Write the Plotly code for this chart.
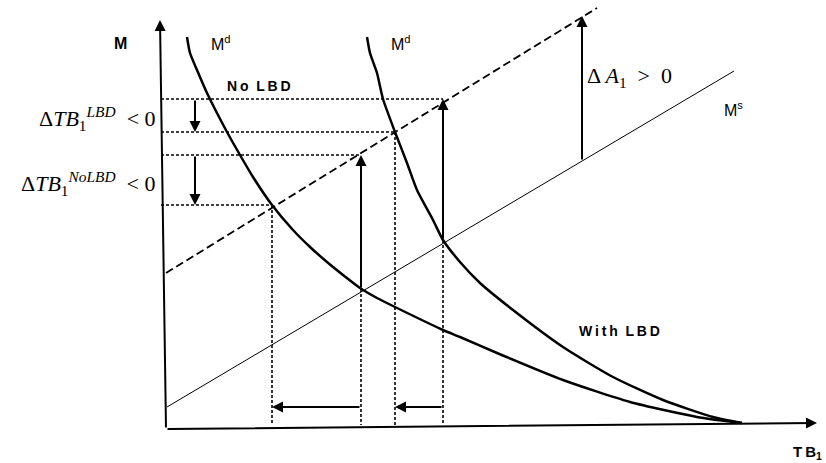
import plotly.graph_objects as go

# diagram units: origin at the axes corner, x = TB1, y = M
md_left_x = [21, 24, 31, 41, 61, 74, 87, 106, 127, 144, 161, 177, 194, 211, 229, 277, 294,
             331, 397, 464, 531, 576]
md_left_y = [392, 376, 359, 336, 297, 274, 252, 224, 199, 182, 167, 154, 141, 131, 122, 99, 92,
             76, 49, 27, 12, 6]

md_right_x = [201, 204, 211, 217, 229, 241, 251, 267, 277, 294, 314, 347, 397, 447, 497, 547, 576]
md_right_y = [392, 376, 356, 330, 297, 266, 239, 209, 189, 167, 146, 119, 82, 52, 29, 12, 6]

ms_x = [1, 568]
ms_y = [22, 358]
ms_shift_x = [0, 431]
ms_shift_y = [156, 421]

# equilibrium points (x, y)
eq_x = [106, 195, 229, 277]
eq_y = [224, 140, 297, 189]
level_y = [224, 274, 297, 330]   # horizontal guide levels
level_x = [106, 195, 229, 277]   # where each guide ends

da_x = 416
da_y = [268, 413]

fig = go.Figure()

BLACK = "black"
dot = "3px,2px"

# horizontal guides from the M axis
for lx, ly in zip(level_x, level_y):
    fig.add_trace(go.Scatter(x=[-5, lx], y=[ly, ly], mode="lines",
                             line=dict(color=BLACK, width=1.6, dash=dot)))

# vertical guides down to the TB axis
for vx, vy in zip(eq_x, eq_y):
    fig.add_trace(go.Scatter(x=[vx, vx], y=[vy, 4], mode="lines",
                             line=dict(color=BLACK, width=1.6, dash=dot)))

# supply lines
fig.add_trace(go.Scatter(x=ms_x, y=ms_y, mode="lines", line=dict(color=BLACK, width=1)))
fig.add_trace(go.Scatter(x=ms_shift_x, y=ms_shift_y, mode="lines",
                         line=dict(color=BLACK, width=1.8, dash="8px,4px")))

# demand curves
fig.add_trace(go.Scatter(x=md_left_x, y=md_left_y, mode="lines",
                         line=dict(color=BLACK, width=2.5, shape="spline", smoothing=0.6)))
fig.add_trace(go.Scatter(x=md_right_x, y=md_right_y, mode="lines",
                         line=dict(color=BLACK, width=2.5, shape="spline", smoothing=0.6)))


def arrow(x0, y0, x1, y1, w=2):
    fig.add_annotation(x=x1, y=y1, ax=x0, ay=y0, xref="x", yref="y", axref="x", ayref="y",
                       text="", showarrow=True, arrowhead=2, arrowsize=1.1,
                       arrowwidth=w, arrowcolor=BLACK)


# axes
arrow(0, 0, -6, 409)
arrow(0, 0, 651, 6)
# shifts
arrow(195, 140, 195, 274)
arrow(277, 189, 277, 330)
arrow(da_x, da_y[0], da_x, da_y[1])
arrow(29, 330, 29, 297)
arrow(29, 274, 29, 224)
arrow(195, 22, 106, 22)
arrow(277, 22, 229, 22)

sans = "Liberation Sans"
serif = "Liberation Serif"


def label(x, y, text, size=13, family=sans, xanchor="left"):
    fig.add_annotation(x=x, y=y, text=text, showarrow=False, xanchor=xanchor,
                       yanchor="middle", font=dict(family=family, size=size, color=BLACK))


label(-46, 386, "<b>M</b>", 16, xanchor="center")
label(43, 386, "M<sup>d</sup>", 16)
label(223, 386, "M<sup>d</sup>", 16)
label(59, 343, "<b>N\u2009o  L\u2009B\u2009D</b>", 14)
label(411, 98, "<b>W\u2009i\u2009t\u2009h  L\u2009B\u2009D</b>", 14)
label(556, 320, "M<sup>s</sup>", 16)
label(419, 352, "Δ <i>A</i><sub>1</sub>  >  0", 22, serif)
label(-8, 311, "Δ<i>TB</i><sub>1</sub><sup><i>LBD</i></sup>  < 0", 22, serif, "right")
label(-8, 246, "Δ<i>TB</i><sub>1</sub><sup><i>NoLBD</i></sup>  < 0", 22, serif, "right")
label(625, -23, "<b>T\u2009B<sub>1</sub></b>", 15)

fig.update_layout(
    width=826, height=463,
    margin=dict(l=0, r=0, t=0, b=0),
    paper_bgcolor="white", plot_bgcolor="white",
    showlegend=False,
    xaxis=dict(range=[-166, 660], visible=False, fixedrange=True),
    yaxis=dict(range=[-34, 429], visible=False, fixedrange=True),
)

fig.write_html("out.html", config={"displayModeBar": False},
               post_script="document.body.style.margin='0';")
